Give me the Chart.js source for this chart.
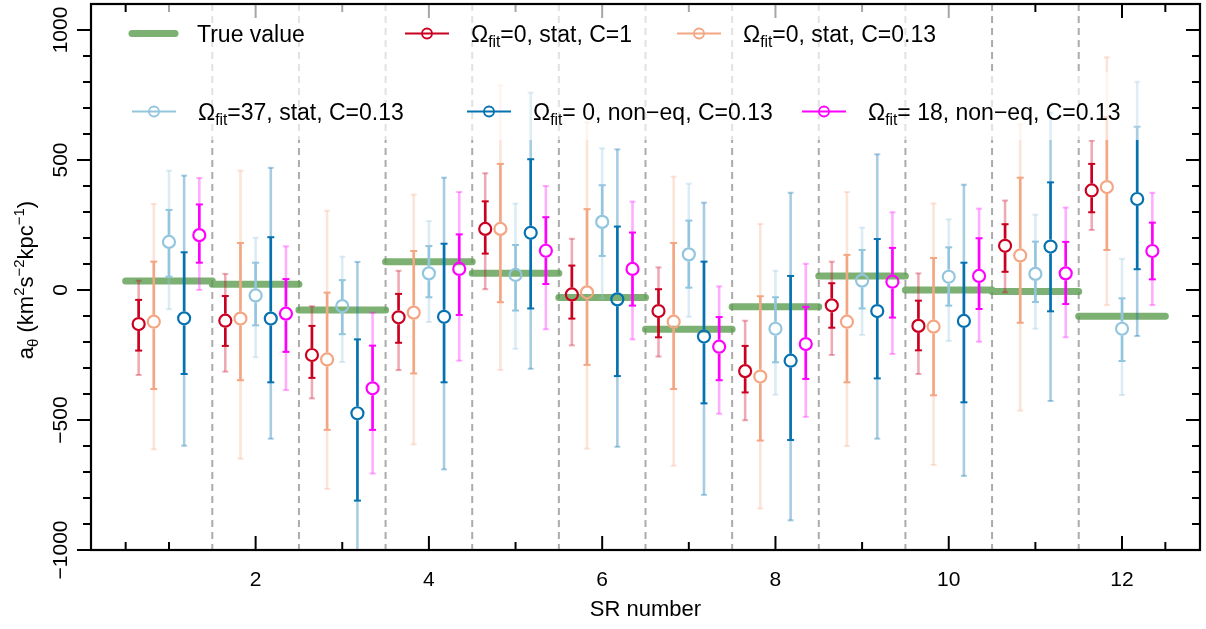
<!DOCTYPE html>
<html>
<head>
<meta charset="utf-8">
<title>a_theta per SR</title>
<script src="https://cdn.jsdelivr.net/npm/chart.js@4/dist/chart.umd.min.js"></script>
<style>
  html, body { margin: 0; padding: 0; background: #fff; }
</style>
</head>
<body>
<canvas id="grafico" width="1206" height="629"></canvas>
<script>
// ---- data ----
const srNumbers = [1, 2, 3, 4, 5, 6, 7, 8, 9, 10, 11, 12];
const trueValue = [35, 22, -77, 109, 64, -29, -151, -64, 54, 0, -6, -101];

// Omega_fit=0, stat, C=1
const redMid   = [-131, -118, -250, -105, 235, -17, -81, -312, -59, -138, 170, 383];
const redInner = [[-233,-38],[-215,-23],[-338,-138],[-203,-15],[140,341],[-110,94],[-182,3],[-394,-215],[-145,26],[-232,-41],[70,253],[299,485]];
const redOuter = [[-327,36],[-314,62],[-417,-62],[-308,74],[3,449],[-213,197],[-256,87],[-501,-118],[-250,109],[-323,64],[-9,344],[231,574]];

// Omega_fit=0, stat, C=0.13
const orangeMid   = [-122, -110, -267, -87, 235, -9, -122, -333, -122, -141, 133, 396];
const orangeInner = [[-381,109],[-347,181],[-538,-10],[-321,150],[-47,485],[-288,311],[-381,181],[-579,-24],[-355,135],[-405,123],[-126,432],[154,665]];
const orangeOuter = [[-613,331],[-649,459],[-765,305],[-594,367],[-308,788],[-610,646],[-676,436],[-841,254],[-600,377],[-673,333],[-464,637],[-58,895]];

// Omega_fit=37, stat, C=0.13
const lightMid   = [185, -21, -62, 64, 58, 262, 137, -149, 36, 51, 62, -149];
const lightInner = [[51,308],[-136,105],[-170,38],[-28,169],[-79,173],[131,403],[9,267],[-278,-28],[-71,154],[-60,164],[-46,186],[-273,-32]];
const lightOuter = [[-74,459],[-259,201],[-277,128],[-123,265],[-226,332],[-33,545],[-103,409],[-403,74],[-173,240],[-196,272],[-149,290],[-404,120]];

// Omega_fit=0, non-eq, C=0.13
const blueMid   = [-109, -110, -474, -103, 220, -36, -179, -272, -81, -119, 167, 350];
const blueInner = [[-323,145],[-355,203],[-810,-190],[-355,178],[-71,503],[-331,244],[-436,109],[-577,54],[-340,196],[-432,105],[-82,414],[80,628]];
const blueOuter = [[-599,440],[-572,470],[-1150,108],[-690,432],[-303,759],[-603,541],[-788,336],[-886,374],[-572,522],[-715,405],[-427,682],[-177,801]];

// Omega_fit=18, non-eq, C=0.13
const magentaMid   = [211, -91, -378, 81, 151, 81, -218, -208, 32, 54, 64, 150];
const magentaInner = [[105,329],[-238,42],[-538,-214],[-96,214],[23,280],[-60,221],[-347,-104],[-342,-65],[-106,162],[-73,199],[-54,185],[41,259]];
const magentaOuter = [[0,431],[-385,168],[-706,-87],[-272,377],[-151,400],[-190,340],[-476,14],[-488,101],[-246,299],[-199,313],[-182,317],[-58,374]];

// legend text after "Omega_fit"
const legendRest = ['=0, stat, C=1', '=0, stat, C=0.13', '=37, stat, C=0.13', '= 0, non\u2212eq, C=0.13', '= 18, non\u2212eq, C=0.13'];

// axis ticks
const xTickValues = [0.5, 1, 2, 3, 4, 5, 6, 7, 8, 9, 10, 11, 12, 12.5];
const yTickLabels = [-1000, -500, 0, 500, 1000];

const FONT = "'Liberation Sans', Arial, Helvetica, sans-serif";
Chart.defaults.font.family = FONT;

const series = [
  { mid: redMid, inner: redInner, outer: redOuter, color: '#CA0020', light: 'rgba(202,0,32,0.33)' },
  { mid: orangeMid, inner: orangeInner, outer: orangeOuter, color: '#F4A582', light: 'rgba(244,165,130,0.3)' },
  { mid: lightMid, inner: lightInner, outer: lightOuter, color: '#92C5DE', light: 'rgba(146,197,222,0.32)' },
  { mid: blueMid, inner: blueInner, outer: blueOuter, color: '#0571B0', light: 'rgba(5,113,176,0.35)' },
  { mid: magentaMid, inner: magentaInner, outer: magentaOuter, color: '#FF00FF', light: 'rgba(255,0,255,0.32)' }
];
const offsets = [-0.35, -0.175, 0, 0.175, 0.35];
const GREEN = 'rgba(87,155,75,0.78)';

function line(ctx, x1, y1, x2, y2) {
  ctx.beginPath(); ctx.moveTo(x1, y1); ctx.lineTo(x2, y2); ctx.stroke();
}

// text with sub (1) / superscript (2) pieces
function richWidth(ctx, parts, size) {
  let w = 0;
  parts.forEach(([t, m]) => {
    ctx.font = (m ? size * 0.68 : size) + 'px ' + FONT;
    w += ctx.measureText(t).width;
  });
  return w;
}
function drawRich(ctx, parts, x, y, size) {
  let cx = x;
  parts.forEach(([t, m]) => {
    ctx.font = (m ? size * 0.68 : size) + 'px ' + FONT;
    const dy = m === 1 ? size * 0.22 : (m === 2 ? -size * 0.4 : 0);
    ctx.fillText(t, cx, y + dy);
    cx += ctx.measureText(t).width;
  });
}

function errBar(ctx, px, pm, pLo, pHi, color, cap) {
  const gap = 7;
  ctx.strokeStyle = color;
  ctx.lineWidth = 2.6;
  if (pHi < pm - gap) line(ctx, px, pm - gap, px, pHi);
  if (pLo > pm + gap) line(ctx, px, pm + gap, px, pLo);
  ctx.lineWidth = 2;
  line(ctx, px - cap, pHi, px + cap, pHi);
  line(ctx, px - cap, pLo, px + cap, pLo);
}

const decor = {
  id: 'decor',
  beforeDatasetsDraw(chart) {
    const { ctx, chartArea: ca, scales: { x, y } } = chart;
    ctx.save();
    // dashed separators between SRs
    ctx.strokeStyle = '#ababab';
    ctx.lineWidth = 2;
    ctx.setLineDash([7, 5]);
    srNumbers.slice(0, -1).forEach(v => {
      const px = x.getPixelForValue(v + 0.5);
      line(ctx, px, ca.top, px, ca.bottom);
    });
    ctx.setLineDash([]);
    // tick marks
    ctx.strokeStyle = '#000';
    ctx.lineWidth = 2;
    xTickValues.forEach(v => {
      const px = x.getPixelForValue(v);
      const len = v % 2 === 0 ? 14 : 8;
      line(ctx, px, ca.bottom, px, ca.bottom - len);
      line(ctx, px, ca.top, px, ca.top + len);
    });
    y.ticks.forEach(t => {
      if (t.value > 1000) return;
      const py = y.getPixelForValue(t.value);
      const len = t.value % 500 === 0 ? 14 : 8;
      line(ctx, ca.left - len, py, ca.left, py);
      line(ctx, ca.right, py, ca.right - len, py);
    });
    ctx.restore();
  },
  afterDatasetDraw(chart, args) {
    if (chart.data.datasets[args.index].label !== 'True value') return;
    const { ctx, chartArea: ca, scales: { x, y } } = chart;
    ctx.save();
    ctx.beginPath();
    ctx.rect(ca.left, ca.top, ca.right - ca.left, ca.bottom - ca.top);
    ctx.clip();
    series.forEach((s, k) => {
      s.mid.forEach((m, i) => {
        const px = x.getPixelForValue(srNumbers[i] + offsets[k]);
        const pm = y.getPixelForValue(m);
        errBar(ctx, px, pm, y.getPixelForValue(s.outer[i][0]), y.getPixelForValue(s.outer[i][1]), s.light, 3);
        errBar(ctx, px, pm, y.getPixelForValue(s.inner[i][0]), y.getPixelForValue(s.inner[i][1]), s.color, 3.5);
      });
    });
    ctx.restore();
  },
  afterDatasetsDraw(chart) {
    const { ctx, chartArea: ca } = chart;
    ctx.save();
    // semi transparent legend background
    ctx.fillStyle = 'rgba(255,255,255,0.65)';
    ctx.fillRect(128, ca.top, 951 - 128, 72 - ca.top);
    ctx.fillRect(128, 72, 1160 - 128, 140 - 72);
    // frame
    ctx.strokeStyle = '#000';
    ctx.lineWidth = 2.2;
    ctx.strokeRect(ca.left, ca.top, ca.right - ca.left, ca.bottom - ca.top);

    // legend
    const items = [
      { k: -1, x: 130, y: 33.5 }, { k: 0, x: 405, y: 33.5 }, { k: 1, x: 677, y: 33.5 },
      { k: 2, x: 132, y: 111.5 }, { k: 3, x: 467, y: 111.5 }, { k: 4, x: 802, y: 111.5 }
    ];
    ctx.fillStyle = '#000';
    ctx.textBaseline = 'alphabetic';
    items.forEach(it => {
      if (it.k < 0) {
        ctx.strokeStyle = GREEN;
        ctx.lineWidth = 7;
        ctx.lineCap = 'round';
        line(ctx, it.x + 2, it.y, it.x + 45, it.y);
        ctx.lineCap = 'butt';
        ctx.fillStyle = '#000';
        ctx.font = '23px ' + FONT;
        ctx.fillText('True value', it.x + 67, it.y + 8);
        return;
      }
      const s = series[it.k];
      ctx.strokeStyle = s.color;
      ctx.lineWidth = 2;
      line(ctx, it.x, it.y, it.x + 44, it.y);
      ctx.lineWidth = 1.8;
      ctx.beginPath();
      ctx.arc(it.x + 22, it.y, 5, 0, Math.PI * 2);
      ctx.stroke();
      ctx.fillStyle = '#000';
      drawRich(ctx, [['\u03A9', 0], ['fit', 1], [legendRest[it.k], 0]], it.x + 66, it.y + 8, 23);
    });

    // y axis title
    const parts = [['a', 0], ['\u03B8', 1], [' (km', 0], ['2', 2], ['s', 0], ['\u22122', 2], ['kpc', 0], ['\u22121', 2], [')', 0]];
    const w = richWidth(ctx, parts, 22);
    ctx.translate(33, 280);
    ctx.rotate(-Math.PI / 2);
    drawRich(ctx, parts, -w / 2, 0, 22);
    ctx.restore();
  }
};

// datasets: markers first (drawn last = on top), true value last (drawn first)
const datasets = series.map((s, k) => ({
  type: 'scatter',
  label: '\u03A9fit' + legendRest[k],
  data: s.mid.map((m, i) => ({ x: srNumbers[i] + offsets[k], y: m })),
  pointStyle: 'circle',
  pointRadius: 6,
  pointHoverRadius: 6,
  pointBorderWidth: 2.2,
  pointBackgroundColor: 'rgba(0,0,0,0)',
  pointBorderColor: s.color
}));

const trueData = [];
trueValue.forEach((v, i) => {
  trueData.push({ x: srNumbers[i] - 0.5, y: v });
  trueData.push({ x: srNumbers[i] + 0.5, y: v });
  trueData.push({ x: srNumbers[i] + 0.5, y: null });
});
datasets.push({
  type: 'line',
  label: 'True value',
  data: trueData,
  borderColor: GREEN,
  borderWidth: 7,
  borderCapStyle: 'round',
  pointRadius: 0,
  spanGaps: false,
  fill: false
});

function noPad(s) {
  s.paddingTop = 0; s.paddingBottom = 0; s.paddingLeft = 0; s.paddingRight = 0;
}

new Chart(document.getElementById('grafico').getContext('2d'), {
  type: 'scatter',
  data: { datasets },
  options: {
    responsive: false,
    animation: false,
    devicePixelRatio: 1,
    events: [],
    layout: { autoPadding: false, padding: { top: 4, right: 6, left: 0, bottom: 0 } },
    plugins: { legend: { display: false }, tooltip: { enabled: false } },
    scales: {
      x: {
        type: 'linear',
        min: 0.1,
        max: 12.9,
        grid: { display: false, drawTicks: false },
        border: { display: false },
        afterBuildTicks: s => { s.ticks = xTickValues.map(v => ({ value: v })); },
        afterFit: s => { s.height = 79; noPad(s); },
        ticks: {
          autoSkip: false,
          maxRotation: 0,
          minRotation: 0,
          padding: 18,
          color: '#000',
          font: { size: 21 },
          callback: v => (v % 2 === 0 ? String(v) : '')
        },
        title: {
          display: true,
          text: 'SR number',
          color: '#000',
          font: { size: 22 },
          padding: { top: 0, bottom: 6 }
        }
      },
      y: {
        type: 'linear',
        min: -1000,
        max: 1100,
        grid: { display: false, drawTicks: false },
        border: { display: false },
        afterFit: s => { s.width = 91; noPad(s); },
        ticks: {
          stepSize: 100,
          autoSkip: false,
          minRotation: 90,
          maxRotation: 90,
          crossAlign: 'center',
          padding: 0,
          color: '#000',
          font: { size: 21 },
          callback: v => (yTickLabels.includes(v) ? String(v).replace('-', '\u2212') : '')
        }
      }
    }
  },
  plugins: [decor]
});
</script>
</body>
</html>
